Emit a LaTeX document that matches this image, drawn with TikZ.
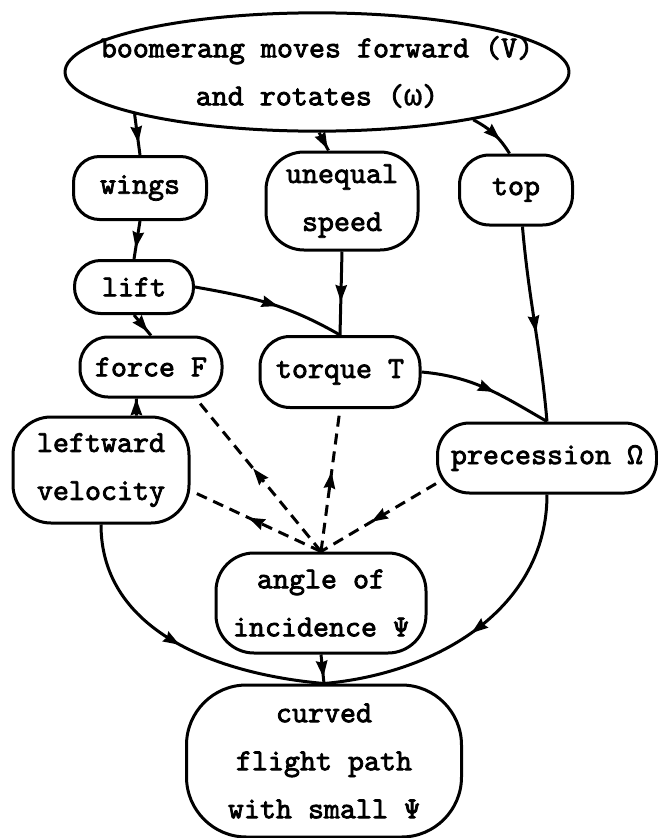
\documentclass[tikz,border=0pt]{standalone}
\usepackage{fontspec}
\setmonofont{lmmono10-regular.otf}[FakeBold=2.5]
\newfontfamily\greekmono{Liberation Mono}[FakeBold=1]
\usetikzlibrary{arrows.meta, positioning, shapes.geometric}

% arrow head put half way along a connector
\newcommand\tiphead{\tikz\fill (0pt,0pt) .. controls (-6pt,2pt) .. (-17pt,6pt) -- (-15pt,0pt) -- (-17pt,-6pt) .. controls (-6pt,-2pt) .. (0pt,0pt);}

\begin{document}
\begin{tikzpicture}[x=1pt, y=1pt,
        blob/.style={draw, line width=3pt, rounded corners=26pt, inner sep=0pt, align=center, font=\ttfamily\fontsize{30.5}{48}\selectfont},
        flow/.style={line width=3pt},
        feedback/.style={flow, dash pattern=on 11pt off 7pt},
        tip/.style={pos=0.5, sloped, allow upside down, inner sep=0pt}
    ]
        \useasboundingbox (0,0) rectangle (658,-838);

        % Start
        \node[blob, ellipse, rounded corners=0pt, inner xsep=-38pt, inner ysep=6pt] (boom) at (317,-72) {boomerang moves forward (V)\\and rotates ({\greekmono ω})};

        % Causes
        \node[blob, minimum width=133pt, minimum height=63pt] (wings) at (140,-188) {wings};
        \node[blob, rounded corners=38pt, minimum width=152pt, minimum height=98pt] (unequal) at (342,-201) {unequal\\speed};
        \node[blob, rounded corners=30pt, minimum width=113pt, minimum height=70pt] (top) at (516,-190) {top};

        % Forces
        \node[blob, minimum width=119pt, minimum height=53pt] (lift) at (134,-287) {lift};
        \node[blob, rounded corners=28pt, minimum width=142pt, minimum height=60pt] (force) at (151,-367) {force F};
        \node[blob, rounded corners=30pt, minimum width=160pt, minimum height=71pt] (torque) at (340,-372) {torque T};
        \node[blob, rounded corners=38pt, minimum width=176pt, minimum height=106pt] (leftward) at (101,-470) {leftward\\velocity};
        \node[blob, rounded corners=32pt, minimum width=219pt, minimum height=70pt] (precession) at (547,-458) {precession Ω};

        % Result
        \node[blob, rounded corners=38pt, minimum width=210pt, minimum height=100pt] (angle) at (321,-603) {angle of\\incidence Ψ};
        \node[blob, rounded corners=60pt, minimum width=275pt, minimum height=152pt] (curved) at (324,-761) {curved\\flight path\\with small Ψ};

        \draw[flow] (boom.193) -- node[tip] {\tiphead} (wings.north);
        \draw[flow] (boom.272) -- node[tip] {\tiphead} (unequal.105);
        \draw[flow] (boom.343) to[bend left=15] node[tip] {\tiphead} (top.100);
        \draw[flow] (wings.south) -- node[tip] {\tiphead} (lift.north);
        \draw[flow] (unequal.south) -- node[tip] {\tiphead} (torque.north);
        \draw[flow] (lift.east) to[out=-10, in=150] node[tip] {\tiphead} (torque.north);
        \draw[flow] (lift.south) -- node[tip] {\tiphead} (force.north);
        \draw[flow] (leftward.57) -- node[tip] {\tiphead} (force.245);
        \draw[flow] (top.280) to[out=-85, in=95] node[tip] {\tiphead} (precession.north);
        \draw[flow] (torque.east) to[out=-5, in=150] node[tip] {\tiphead} (precession.north);

        % Feedback via the angle
        \draw[feedback] (angle.north) -- node[tip] {\tiphead} (force.-35);
        \draw[feedback] (angle.north) -- node[tip] {\tiphead} (torque.south);
        \draw[feedback] (angle.north) -- node[tip] {\tiphead} (leftward.-13);
        \draw[feedback] (precession.193) -- node[tip] {\tiphead} (angle.north);

        \draw[flow] (angle.south) -- node[tip] {\tiphead} (curved.north);
        \draw[flow] (leftward.south) to[out=-90, in=175] node[tip] {\tiphead} (curved.north);
        \draw[flow] (precession.south) to[out=-90, in=5] node[tip] {\tiphead} (curved.north);

    \end{tikzpicture}
\end{document}
